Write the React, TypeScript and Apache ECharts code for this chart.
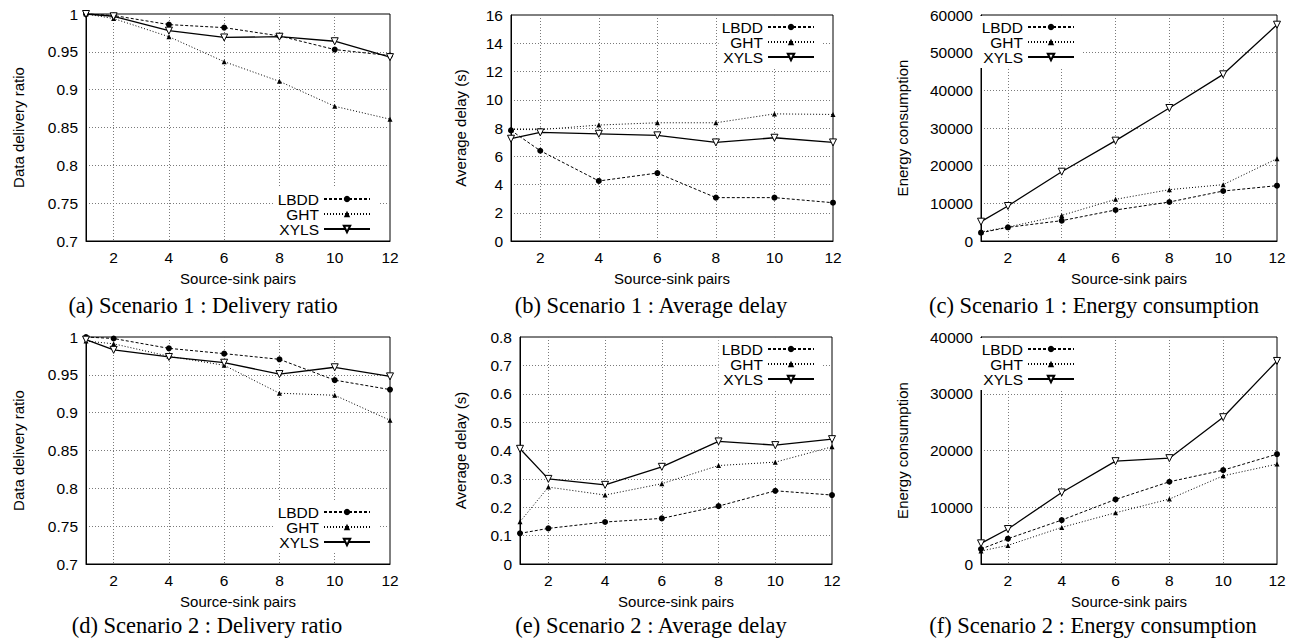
import React, { useEffect, useRef } from "react";
import * as echarts from "echarts";

// ---- data ----
const pairs = [1, 2, 4, 6, 8, 10, 12];
const seriesNames = ["LBDD", "GHT", "XYLS"];

const s1RatioLBDD = [1.0, 0.998, 0.986, 0.982, 0.971, 0.953, 0.945];
const s1RatioGHT = [1.0, 0.994, 0.970, 0.937, 0.911, 0.878, 0.861];
const s1RatioXYLS = [1.0, 0.997, 0.978, 0.969, 0.970, 0.964, 0.943];

const s1DelayLBDD = [7.83, 6.39, 4.25, 4.81, 3.07, 3.07, 2.71];
const s1DelayGHT = [7.9, 7.88, 8.21, 8.37, 8.37, 9.0, 8.96];
const s1DelayXYLS = [7.24, 7.69, 7.59, 7.48, 6.98, 7.31, 6.98];

const s1EnergyLBDD = [2200, 3630, 5400, 8230, 10350, 13270, 14690];
const s1EnergyGHT = [2400, 3700, 6800, 11060, 13630, 14960, 21860];
const s1EnergyXYLS = [5130, 9290, 18400, 26640, 35310, 44250, 57430];

const s2RatioLBDD = [1.0, 0.998, 0.985, 0.978, 0.9705, 0.943, 0.9305];
const s2RatioGHT = [0.9947, 0.991, 0.9745, 0.9626, 0.9257, 0.923, 0.89];
const s2RatioXYLS = [0.9965, 0.983, 0.9736, 0.966, 0.951, 0.96, 0.948];

const s2DelayLBDD = [0.108, 0.1255, 0.148, 0.1607, 0.204, 0.258, 0.243];
const s2DelayGHT = [0.149, 0.271, 0.243, 0.283, 0.347, 0.359, 0.413];
const s2DelayXYLS = [0.406, 0.3, 0.279, 0.3425, 0.432, 0.419, 0.44];

const s2EnergyLBDD = [2640, 4460, 7740, 11380, 14490, 16540, 19350];
const s2EnergyGHT = [2290, 3280, 6450, 9030, 11440, 15540, 17600];
const s2EnergyXYLS = [3640, 6160, 12610, 18120, 18650, 25870, 35780];

const xAxisTitle = "Source-sink pairs";
const ratioTitle = "Data delivery ratio";
const delayTitle = "Average delay (s)";
const energyTitle = "Energy consumption";

const captions = [
  "(a) Scenario 1 : Delivery ratio",
  "(b) Scenario 1 : Average delay",
  "(c) Scenario 1 : Energy consumption",
  "(d) Scenario 2 : Delivery ratio",
  "(e) Scenario 2 : Average delay",
  "(f) Scenario 2 : Energy consumption",
];

// ---- layout ----
const SANS = '"Liberation Sans", Arial, Helvetica, sans-serif';
const SERIF = '"Liberation Serif", "Times New Roman", serif';

const panels = [
  { grid: { left: 86, top: 14, width: 304, height: 227 }, y: [0.7, 1, 0.05], yName: ratioTitle, nameGap: 60,
    data: [s1RatioLBDD, s1RatioGHT, s1RatioXYLS], legend: { right: 917, top: 188 }, cap: [203, 305] },
  { grid: { left: 511, top: 15, width: 322, height: 226 }, y: [0, 16, 2], yName: delayTitle, nameGap: 43,
    data: [s1DelayLBDD, s1DelayGHT, s1DelayXYLS], legend: { right: 473, top: 16 }, cap: [651, 305] },
  { grid: { left: 981, top: 15, width: 296, height: 226 }, y: [0, 60000, 10000], yName: energyTitle, nameGap: 71,
    data: [s1EnergyLBDD, s1EnergyGHT, s1EnergyXYLS], legend: { right: 213, top: 16 }, cap: [1094, 305] },
  { grid: { left: 86, top: 337, width: 304, height: 227 }, y: [0.7, 1, 0.05], yName: ratioTitle, nameGap: 60,
    data: [s2RatioLBDD, s2RatioGHT, s2RatioXYLS], legend: { right: 917, top: 501 }, cap: [207, 625] },
  { grid: { left: 520, top: 337, width: 312, height: 227 }, y: [0, 0.8, 0.1], yName: delayTitle, nameGap: 52,
    data: [s2DelayLBDD, s2DelayGHT, s2DelayXYLS], legend: { right: 473, top: 338 }, cap: [651, 625] },
  { grid: { left: 981, top: 337, width: 296, height: 227 }, y: [0, 40000, 10000], yName: energyTitle, nameGap: 71,
    data: [s2EnergyLBDD, s2EnergyGHT, s2EnergyXYLS], legend: { right: 213, top: 338 }, cap: [1093, 625] },
];

const gridLine = { show: true, showMinLine: false, showMaxLine: false, lineStyle: { color: "#7a7a7a", width: 1, type: [1, 2] } };
const labelStyle = { color: "#000", fontSize: 15.5, fontFamily: SANS };
const nameStyle = { color: "#000", fontSize: 15, fontFamily: SANS };

const seriesStyles = [
  { symbol: "circle", symbolSize: 6, symbolRotate: 0, lineStyle: { color: "#000", width: 1, type: [3, 2] }, itemStyle: { color: "#000" } },
  { symbol: "triangle", symbolSize: 5, symbolRotate: 0, lineStyle: { color: "#000", width: 1, type: [1, 2] }, itemStyle: { color: "#000" } },
  { symbol: "triangle", symbolSize: 7, symbolRotate: 180, lineStyle: { color: "#000", width: 1.3, type: "solid" }, itemStyle: { color: "#fff", borderColor: "#000", borderWidth: 1 } },
];

function buildOption() {
  const grid = panels.map((p) => ({ ...p.grid, show: true, borderColor: "#000", borderWidth: 1, backgroundColor: "transparent" }));
  const xAxis = panels.map((p, i) => ({
    gridIndex: i, type: "value", min: 1, max: 12, splitNumber: 5,
    name: xAxisTitle, nameLocation: "middle", nameGap: 30,
    nameTextStyle: { ...nameStyle },
    axisLine: { show: true, lineStyle: { color: "#000", width: 1 } },
    axisTick: { show: false },
    axisLabel: { ...labelStyle, margin: 8, showMinLabel: false, formatter: (v: number) => String(v) },
    splitLine: gridLine,
  }));
  const yAxis = panels.map((p, i) => ({
    gridIndex: i, type: "value", min: p.y[0], max: p.y[1], interval: p.y[2],
    name: p.yName, nameLocation: "middle", nameGap: p.nameGap,
    nameTextStyle: { ...nameStyle },
    axisLine: { show: true, lineStyle: { color: "#000", width: 1 } },
    axisTick: { show: false },
    axisLabel: { ...labelStyle, margin: 8, formatter: (v: number) => String(+v.toFixed(4)) },
    splitLine: gridLine,
  }));
  const series: any[] = [];
  panels.forEach((p, i) => {
    p.data.forEach((vals, k) => {
      const st = seriesStyles[k];
      series.push({
        type: "line", name: seriesNames[k], xAxisIndex: i, yAxisIndex: i,
        data: pairs.map((x, j) => [x, vals[j]]),
        symbol: st.symbol, symbolSize: st.symbolSize, symbolRotate: st.symbolRotate,
        showAllSymbol: true, clip: false,
        lineStyle: st.lineStyle, itemStyle: st.itemStyle,
        emphasis: { disabled: true }, z: 2 + k,
      });
    });
  });
  const legend = panels.map((p) => ({
    orient: "vertical", align: "right", right: p.legend.right, top: p.legend.top,
    itemWidth: 46, itemHeight: 8, itemGap: -1, padding: [3, 8, 3, 3],
    backgroundColor: "#fff", selectedMode: false,
    textStyle: { ...labelStyle },
    data: seriesNames,
  }));
  const graphic = panels.map((p, i) => ({
    type: "text", x: p.cap[0], y: p.cap[1],
    style: { text: captions[i], fontSize: 22.5, fontFamily: SERIF, fill: "#000", align: "center", verticalAlign: "middle" },
  }));
  return {
    animation: false,
    backgroundColor: "#fff",
    textStyle: { fontFamily: SANS },
    grid, xAxis, yAxis, series, legend, graphic,
  };
}

export default function App() {
  const ref = useRef<HTMLDivElement>(null);
  useEffect(() => {
    if (!ref.current) return;
    const chart = echarts.init(ref.current, null, { renderer: "svg" });
    chart.setOption(buildOption() as any);
    return () => chart.dispose();
  }, []);
  return <div ref={ref} style={{ position: "fixed", left: 0, top: 0, width: 1296, height: 641, background: "#fff" }} />;
}
